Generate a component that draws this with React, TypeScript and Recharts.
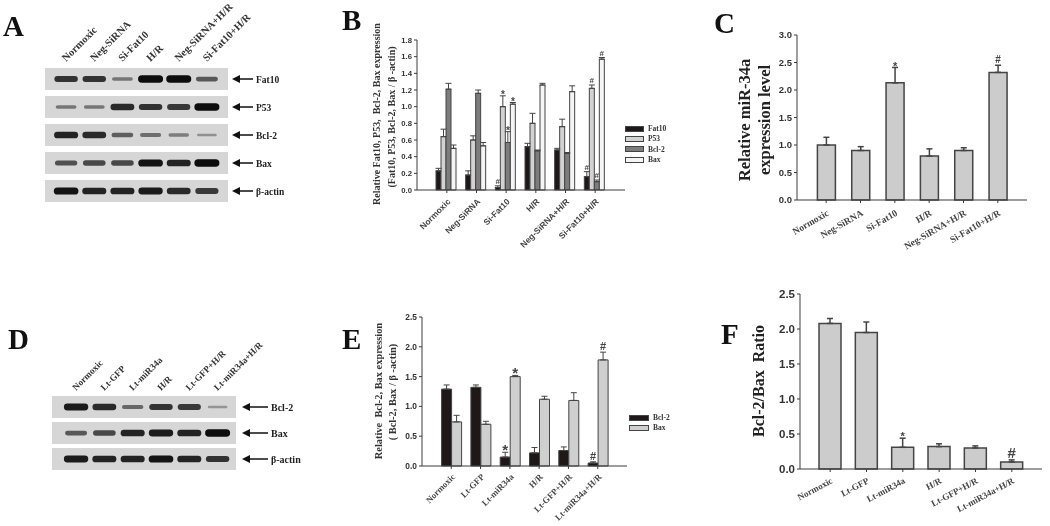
import { BarChart, Bar, XAxis, YAxis, ErrorBar, LabelList, Legend, ScatterChart, Scatter, ReferenceArea } from "recharts";

const SERIF = "'Liberation Serif', serif";
const SANS = "'Liberation Sans', sans-serif";

// panels A and D: blot lanes and band intensity (0-1) per row
const blotALanes = ["Normoxic", "Neg-SiRNA", "Si-Fat10", "H/R", "Neg-SiRNA+H/R", "Si-Fat10+H/R"];
const blotARows = ["Fat10", "P53", "Bcl-2", "Bax", "β-actin"];
const blotABands = [
  [0.75, 0.75, 0.3, 1, 1, 0.5],
  [0.3, 0.3, 0.8, 0.75, 0.7, 1],
  [0.85, 0.8, 0.45, 0.35, 0.25, 0.12],
  [0.55, 0.6, 0.6, 0.95, 0.85, 1],
  [0.95, 0.85, 0.85, 0.9, 0.8, 0.7],
];
const blotDLanes = ["Normoxic", "Lt-GFP", "Lt-miR34a", "H/R", "Lt-GFP+H/R", "Lt-miR34a+H/R"];
const blotDRows = ["Bcl-2", "Bax", "β-actin"];
const blotDBands = [
  [0.9, 0.8, 0.4, 0.75, 0.7, 0.1],
  [0.5, 0.6, 0.85, 0.9, 0.85, 1],
  [0.9, 0.85, 0.85, 0.95, 0.85, 0.75],
];

// panel B
const fatCategories = ["Normoxic", "Neg-SiRNA", "Si-Fat10", "H/R", "Neg-SiRNA+H/R", "Si-Fat10+H/R"];
const bFat10 = [0.23, 0.18, 0.03, 0.52, 0.48, 0.16];
const bFat10Err = [0.03, 0.05, 0.02, 0.04, 0.02, 0.06];
const bFat10Marks = ["", "", "#", "", "", "#"];
const bP53 = [0.64, 0.6, 1.0, 0.8, 0.76, 1.22];
const bP53Err = [0.09, 0.05, 0.13, 0.12, 0.09, 0.04];
const bP53Marks = ["", "", "*", "", "", "#"];
const bBcl2 = [1.21, 1.16, 0.57, 0.47, 0.44, 0.1];
const bBcl2Err = [0.07, 0.04, 0.13, 0.01, 0.01, 0.02];
const bBcl2Marks = ["", "", "*", "", "", "#"];
const bBax = [0.5, 0.53, 1.03, 1.26, 1.18, 1.57];
const bBaxErr = [0.04, 0.04, 0.02, 0.02, 0.07, 0.02];
const bBaxMarks = ["", "", "*", "", "", "#"];

// panel C
const cValues = [1.0, 0.9, 2.13, 0.8, 0.9, 2.32];
const cErr = [0.14, 0.07, 0.28, 0.13, 0.05, 0.13];
const cMarks = ["", "", "*", "", "", "#"];

// panel E
const ltCategories = ["Normoxic", "Lt-GFP", "Lt-miR34a", "H/R", "Lt-GFP+H/R", "Lt-miR34a+H/R"];
const eBcl2 = [1.29, 1.32, 0.15, 0.22, 0.26, 0.05];
const eBcl2Err = [0.07, 0.04, 0.08, 0.09, 0.06, 0.02];
const eBcl2Marks = ["", "", "*", "", "", "#"];
const eBax = [0.74, 0.7, 1.5, 1.12, 1.1, 1.78];
const eBaxErr = [0.11, 0.05, 0.02, 0.05, 0.13, 0.13];
const eBaxMarks = ["", "", "*", "", "", "#"];

// panel F
const fValues = [2.08, 1.95, 0.31, 0.32, 0.3, 0.1];
const fErr = [0.07, 0.15, 0.13, 0.04, 0.03, 0.03];
const fMarks = ["", "", "*", "", "", "#"];

const AXIS = "#3c3c3c";
const EDGE = "#444";

type SeriesDef = { key: string; name: string; values: number[]; errs: number[]; marks: string[]; fill: string };

function buildRows(categories: string[], series: SeriesDef[]) {
  return categories.map((name, i) => {
    const row: any = { name };
    series.forEach((s) => {
      row[s.key] = s.values[i];
      row[s.key + "Err"] = [0, s.errs[i]];
      row[s.key + "Mark"] = s.marks[i];
    });
    return row;
  });
}

function markLabel(errs: number[], pxPerUnit: number, hashFont: number, starFont: number) {
  return (props: any) => {
    const { x, y, width, value, index } = props;
    if (!value) return null;
    const star = value === "*";
    const size = star ? starFont : hashFont;
    const top = y - errs[index] * pxPerUnit - (star ? -size * 0.2 : 2);
    return (
      <text x={x + width / 2} y={top} textAnchor="middle" fontSize={size} fontFamily={SANS} fontWeight={700} fill="#444">
        {value}
      </text>
    );
  };
}

function BarPanel(props: {
  plot: [number, number, number, number];
  categories: string[];
  series: SeriesDef[];
  yMax: number;
  ticks: number[];
  padding: number;
  categoryGap: number;
  tickFont: number;
  xFont: number;
  xFamily: string;
  xMargin: number;
  angle: number;
  hashFont: number;
  starFont: number;
  capWidth: number;
  stroke: number;
  legend?: { left: number; top: number; font: number; swatch: number; rowGap: number };
}) {
  const { plot, categories, series, yMax, ticks, padding, categoryGap, tickFont, xFont, xFamily, xMargin, angle, hashFont, starFont, capWidth, stroke, legend } = props;
  const [left, top, right, bottom] = plot;
  const rows = buildRows(categories, series);
  const pxPerUnit = (bottom - top) / yMax;
  const yW = 40;
  const xH = 75;
  const extraRight = 60;
  return (
    <div style={{ position: "absolute", left: left - yW, top: top - 20 }}>
      <BarChart
        width={right - left + yW + extraRight}
        height={bottom - top + 20 + xH}
        data={rows}
        margin={{ top: 20, right: extraRight, bottom: 0, left: 0 }}
        barCategoryGap={categoryGap}
        barGap={0}
      >
        <XAxis
          dataKey="name"
          interval={0}
          height={xH}
          padding={{ left: padding, right: padding }}
          stroke={AXIS}
          tickSize={3}
          tickMargin={xMargin}
          angle={angle}
          textAnchor="end"
          tick={{ fontSize: xFont, fontFamily: xFamily, fontWeight: 700, fill: "#444" }}
        />
        <YAxis
          width={yW}
          domain={[0, yMax]}
          ticks={ticks}
          interval={0}
          stroke={AXIS}
          tickSize={3}
          tickMargin={2}
          tickFormatter={(v: number) => v.toFixed(1)}
          tick={{ fontSize: tickFont, fontFamily: SANS, fontWeight: 700, fill: "#333" }}
        />
        {series.map((s) => (
          <Bar key={s.key} dataKey={s.key} name={s.name} fill={s.fill} stroke={EDGE} strokeWidth={stroke} isAnimationActive={false}>
            <ErrorBar dataKey={s.key + "Err"} direction="y" width={capWidth} stroke={EDGE} strokeWidth={stroke} isAnimationActive={false} />
            <LabelList dataKey={s.key + "Mark"} content={markLabel(s.errs, pxPerUnit, hashFont, starFont)} />
          </Bar>
        ))}
        {legend && (
          <Legend
            layout="vertical"
            align="right"
            verticalAlign="top"
            wrapperStyle={{ left: legend.left - left + yW, top: legend.top - top + 20, width: 0, height: 0 }}
            content={() => (
              <div style={{ position: "relative", whiteSpace: "nowrap" }}>
                {series.map((s, i) => (
                  <div key={s.key} style={{ position: "absolute", top: i * legend.rowGap, left: 0, display: "flex", alignItems: "center" }}>
                    <span style={{ display: "inline-block", boxSizing: "border-box", width: legend.swatch, height: 6, background: s.fill, border: `1px solid ${EDGE}`, marginRight: 4 }} />
                    <span style={{ font: `700 ${legend.font}px ${SERIF}`, color: "#333" }}>{s.name}</span>
                  </div>
                ))}
              </div>
            )}
          />
        )}
      </BarChart>
    </div>
  );
}

function BlotPanel(props: {
  plot: [number, number, number, number];
  lanes: string[];
  rowNames: string[];
  bands: number[][];
  xDomain: [number, number];
  stripHalf: number;
  laneFont: number;
  rowFont: number;
  arrowGap: number;
  arrowLen: number;
}) {
  const { plot, lanes, rowNames, bands, xDomain, stripHalf, laneFont, rowFont, arrowGap, arrowLen } = props;
  const [left, top, right, bottom] = plot;
  const points = bands.flatMap((row, r) => row.map((level, lane) => ({ lane, row: r, level })));
  const headH = 80;
  const sideW = 75;
  const band = (p: any) => {
    const level = p.payload.level;
    const h = 2 + 5.5 * level;
    const w = 19 + 6 * level;
    return (
      <rect
        x={p.cx - w / 2}
        y={p.cy - h / 2}
        width={w}
        height={h}
        rx={h / 2}
        fill="#0d0d0d"
        opacity={0.25 + 0.75 * level}
        style={{ filter: "blur(0.7px)" }}
      />
    );
  };
  const rowTick = (p: any) => {
    const name = rowNames[p.payload.value];
    const x0 = 5 + (right - left) + arrowGap;
    return (
      <g>
        <polygon points={`${x0},${p.y} ${x0 + 8},${p.y - 4} ${x0 + 8},${p.y + 4}`} fill="#111" />
        <line x1={x0 + 6} x2={x0 + arrowLen} y1={p.y} y2={p.y} stroke="#111" strokeWidth={1.5} />
        <text x={x0 + arrowLen + 3} y={p.y + 3.5} fontSize={rowFont} fontFamily={SERIF} fontWeight={700} fill="#222">
          {name}
        </text>
      </g>
    );
  };
  return (
    <div style={{ position: "absolute", left: left - 5, top: top - headH }}>
      <ScatterChart
        width={right - left + 5 + sideW}
        height={bottom - top + headH}
        margin={{ top: 0, right: 0, bottom: 0, left: 5 }}
      >
        <XAxis
          type="number"
          dataKey="lane"
          orientation="top"
          height={headH}
          domain={xDomain}
          ticks={[0, 1, 2, 3, 4, 5]}
          interval={0}
          allowDataOverflow
          axisLine={false}
          tickLine={false}
          tickSize={0}
          tickMargin={3}
          tickFormatter={(v: number) => lanes[v]}
          angle={-45}
          textAnchor="start"
          tick={{ fontSize: laneFont, fontFamily: SERIF, fontWeight: 700, fill: "#333" }}
        />
        <YAxis
          type="number"
          dataKey="row"
          orientation="right"
          reversed
          width={sideW}
          domain={[-0.5, rowNames.length - 0.5]}
          ticks={rowNames.map((_, i) => i)}
          interval={0}
          allowDataOverflow
          axisLine={false}
          tickLine={false}
          tick={rowTick}
        />
        {rowNames.map((name, i) => (
          <ReferenceArea key={name} x1={xDomain[0]} x2={xDomain[1]} y1={i - stripHalf} y2={i + stripHalf} fill="#d6d6d6" fillOpacity={1} stroke="none" />
        ))}
        <Scatter data={points} shape={band} isAnimationActive={false} />
      </ScatterChart>
    </div>
  );
}

function AxisTitle({ x, y, size, children, color = "#333" }: { x: number; y: number; size: number; children: string; color?: string }) {
  return (
    <text x={x} y={y} transform={`rotate(-90 ${x} ${y})`} textAnchor="middle" fontSize={size} fontFamily={SERIF} fontWeight={700} fill={color} xmlSpace="preserve">
      {children}
    </text>
  );
}

function PanelLetter({ x, y, children }: { x: number; y: number; children: string }) {
  return (
    <text x={x} y={y} fontSize={29} fontFamily={SERIF} fontWeight={700} fill="#111">
      {children}
    </text>
  );
}

const bSeries: SeriesDef[] = [
  { key: "fat10", name: "Fat10", values: bFat10, errs: bFat10Err, marks: bFat10Marks, fill: "#1e1818" },
  { key: "p53", name: "P53", values: bP53, errs: bP53Err, marks: bP53Marks, fill: "#d2d2d2" },
  { key: "bcl2", name: "Bcl-2", values: bBcl2, errs: bBcl2Err, marks: bBcl2Marks, fill: "#7d7d7d" },
  { key: "bax", name: "Bax", values: bBax, errs: bBaxErr, marks: bBaxMarks, fill: "#f5f5f5" },
];
const cSeries: SeriesDef[] = [{ key: "mir", name: "miR-34a", values: cValues, errs: cErr, marks: cMarks, fill: "#cccccc" }];
const eSeries: SeriesDef[] = [
  { key: "bcl2", name: "Bcl-2", values: eBcl2, errs: eBcl2Err, marks: eBcl2Marks, fill: "#1e1818" },
  { key: "bax", name: "Bax", values: eBax, errs: eBaxErr, marks: eBaxMarks, fill: "#cfcfcf" },
];
const fSeries: SeriesDef[] = [{ key: "ratio", name: "Bcl-2/Bax", values: fValues, errs: fErr, marks: fMarks, fill: "#cccccc" }];

export default function App() {
  return (
    <div style={{ position: "absolute", left: 0, top: 0, width: 1050, height: 526, overflow: "hidden", background: "#fff", filter: "blur(0.4px)" }}>
      <BlotPanel plot={[45, 65, 228, 205]} lanes={blotALanes} rowNames={blotARows} bands={blotABands} xDomain={[-0.75, 5.75]} stripHalf={0.39} laneFont={10.5} rowFont={9.5} arrowGap={4} arrowLen={21} />
      <BlotPanel plot={[52, 394, 236, 472]} lanes={blotDLanes} rowNames={blotDRows} bands={blotDBands} xDomain={[-0.85, 5.65]} stripHalf={0.42} laneFont={9.2} rowFont={10} arrowGap={6} arrowLen={26} />

      <BarPanel
        plot={[417, 40, 625, 190]}
        categories={fatCategories}
        series={bSeries}
        yMax={1.8}
        ticks={[0, 0.2, 0.4, 0.6, 0.8, 1.0, 1.2, 1.4, 1.6, 1.8]}
        padding={15}
        categoryGap={4}
        tickFont={7.7}
        xFont={8.5}
        xFamily={SANS}
        xMargin={5}
        angle={-45}
        hashFont={8}
        starFont={10}
        capWidth={3}
        stroke={1}
        legend={{ left: 625, top: 124, font: 7.5, swatch: 19, rowGap: 10.4 }}
      />
      <BarPanel
        plot={[797, 35, 1027, 200]}
        categories={fatCategories}
        series={cSeries}
        yMax={3}
        ticks={[0, 0.5, 1, 1.5, 2, 2.5, 3]}
        padding={12}
        categoryGap={8.4}
        tickFont={9.5}
        xFont={9.5}
        xFamily={SERIF}
        xMargin={6}
        angle={-30}
        hashFont={10}
        starFont={11}
        capWidth={3}
        stroke={1.5}
      />
      <BarPanel
        plot={[422, 317, 627, 466]}
        categories={ltCategories}
        series={eSeries}
        yMax={2.5}
        ticks={[0, 0.5, 1, 1.5, 2, 2.5]}
        padding={14.6}
        categoryGap={5}
        tickFont={8.4}
        xFont={8.8}
        xFamily={SERIF}
        xMargin={4}
        angle={-45}
        hashFont={11}
        starFont={15}
        capWidth={3}
        stroke={1}
        legend={{ left: 629, top: 413, font: 7.5, swatch: 20, rowGap: 10.4 }}
      />
      <BarPanel
        plot={[800, 294, 1042, 469]}
        categories={ltCategories}
        series={fSeries}
        yMax={2.5}
        ticks={[0, 0.5, 1, 1.5, 2, 2.5]}
        padding={12}
        categoryGap={7}
        tickFont={11.5}
        xFont={9}
        xFamily={SERIF}
        xMargin={5}
        angle={-28}
        hashFont={15}
        starFont={11}
        capWidth={3}
        stroke={1.5}
      />

      <svg width={1050} height={526} style={{ position: "absolute", left: 0, top: 0, pointerEvents: "none" }}>
        <PanelLetter x={3} y={36}>A</PanelLetter>
        <PanelLetter x={342} y={30}>B</PanelLetter>
        <PanelLetter x={714} y={33}>C</PanelLetter>
        <PanelLetter x={8} y={349}>D</PanelLetter>
        <PanelLetter x={342} y={349}>E</PanelLetter>
        <PanelLetter x={721} y={344}>F</PanelLetter>

        <AxisTitle x={380} y={114} size={10}>Relative Fat10, P53,  Bcl-2, Bax expression</AxisTitle>
        <AxisTitle x={395} y={117} size={10}>(Fat10, P53, Bcl-2, Bax / β -actin)</AxisTitle>
        <AxisTitle x={750} y={120} size={16.5} color="#222">Relative miR-34a</AxisTitle>
        <AxisTitle x={770} y={120} size={16.5} color="#222">expression level</AxisTitle>
        <AxisTitle x={382} y={391} size={10.4}>Relative  Bcl-2, Bax expression</AxisTitle>
        <AxisTitle x={396} y={392} size={10.4}>( Bcl-2, Bax / β -actin)</AxisTitle>
        <AxisTitle x={764} y={381} size={16} color="#222">Bcl-2/Bax  Ratio</AxisTitle>
      </svg>
    </div>
  );
}
